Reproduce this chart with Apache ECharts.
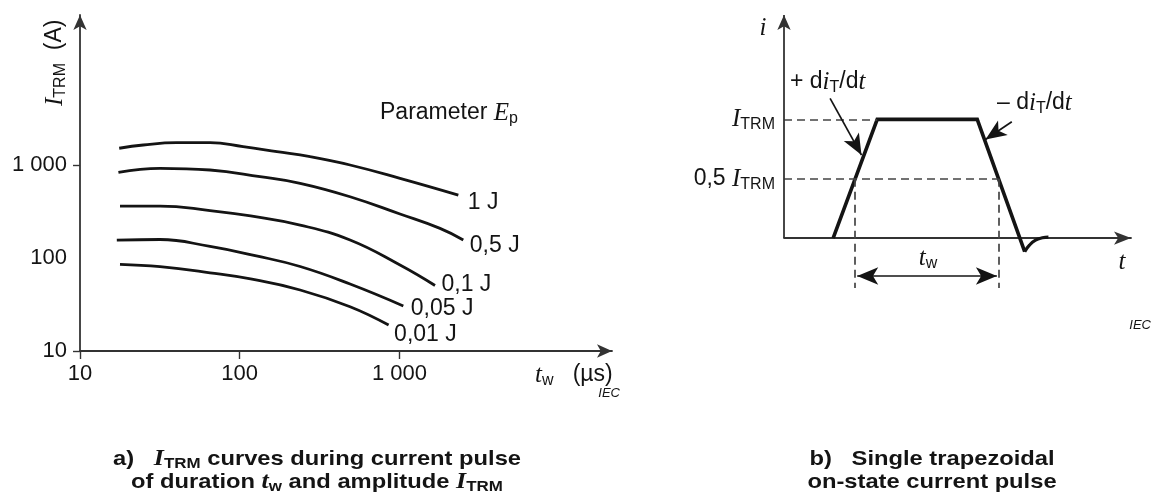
<!DOCTYPE html>
<html>
<head>
<meta charset="utf-8">
<script src="https://cdn.jsdelivr.net/npm/echarts@6/dist/echarts.min.js"></script>
<style>
  html, body { margin: 0; padding: 0; background: #ffffff; }
  #chart { width: 1153px; height: 501px; }
</style>
</head>
<body>
<div id="chart"></div>
<script>
// ---- a) I_TRM versus pulse duration t_w (µs), one curve per energy E_p ----
const energyLabels = ['1 J', '0,5 J', '0,1 J', '0,05 J', '0,01 J'];
const curve1J   = [[17.6, 1514], [24.9, 1641], [40.3, 1738], [65.2, 1738], [105, 1574], [171, 1391], [276, 1228], [491, 1000], [1009, 719], [2339, 475]];
const curve05J  = [[17.4, 835], [31.7, 922], [65.2, 884], [134, 748], [239, 635], [491, 456], [1009, 297], [1796, 208], [2512, 156]];
const curve01J  = [[17.8, 362], [31.7, 362], [65.2, 324], [117, 283], [239, 226], [491, 156], [1009, 84], [1671, 50.6]];
const curve005J = [[17, 156], [31.7, 158], [65.2, 133], [125, 106], [239, 81], [491, 52.5], [1058, 30.5]];
const curve001J = [[17.8, 85.5], [31.7, 80.6], [65.2, 69.3], [117, 59.5], [239, 45.3], [491, 29.9], [856, 19]];
const xTickValues = [10, 100, 1000];
const yLabelValues = [10, 100, 1000];
const yTickValues = [10, 1000];

// ---- b) single trapezoidal on-state current pulse (time in arbitrary units, current in I_TRM) ----
const pulseTime    = [14.5, 27.5, 57, 71];
const pulseCurrent = [0, 1, 1, -0.115];
const tailTime     = [71, 72.4, 74.2, 76.2, 78];
const tailCurrent  = [-0.115, -0.06, -0.018, 0.002, 0.008];
const levelTop = 1;            // I_TRM
const levelHalf = 0.5;         // 0,5 I_TRM
const twStart = 21;            // rising edge crosses 0,5 I_TRM
const twEnd = 63.3;            // falling edge crosses 0,5 I_TRM
const twArrowLevel = -0.32;
const guideBottom = -0.42;
const iAxisTop = 1.879;
const riseArrow = [[13.6, 1.177], [22.86, 0.699]];
const fallArrow = [[67.2, 0.98], [59.44, 0.83]];
const twArrow = [21.6, 62.8];

const SANS = "'Liberation Sans', Arial, Helvetica, sans-serif";
const SERIF = "'Liberation Serif', 'Times New Roman', serif";
const INK = '#141414';
const AXIS = '#333333';
const GUIDE = '#444444';

function richSet(size, subSize, bold) {
  const w = bold ? 'bold' : 'normal';
  return {
    n: { fontFamily: SANS, fontSize: size, fontWeight: w, color: INK, lineHeight: size + 4 },
    i: { fontFamily: SERIF, fontStyle: 'italic', fontSize: size + 2, fontWeight: w, color: INK, lineHeight: size + 4 },
    s: { fontFamily: SANS, fontSize: subSize, fontWeight: w, color: INK, lineHeight: subSize - 2, verticalAlign: 'bottom' }
  };
}
const RICH = richSet(23, 16, false);
const RICH_B = richSet(21, 15, true);

function txt(x, y, text, align, rich, rotation, scaleX) {
  return {
    type: 'text', x: x, y: y, rotation: rotation || 0, scaleX: scaleX || 1, silent: true,
    style: { text: text, rich: rich || RICH, align: align, verticalAlign: 'middle', fill: INK }
  };
}
function iecTag(x, y) {
  return {
    type: 'text', x: x, y: y, silent: true,
    style: { text: 'IEC', fontFamily: SANS, fontStyle: 'italic', fontSize: 13, fill: INK, align: 'right', verticalAlign: 'middle' }
  };
}

const thousands = v => {
  const r = Math.round(v);
  return r >= 1000 ? String(r).replace(/\B(?=(\d{3})+(?!\d))/g, ' ') : String(r);
};

const curves = [curve1J, curve05J, curve01J, curve005J, curve001J];
const labelOffsets = [[10, 8], [7, 6], [7, 0], [8, 3], [6, 10]];

const curveSeries = curves.map((pts, k) => ({
  name: energyLabels[k],
  type: 'line',
  xAxisIndex: 0, yAxisIndex: 0,
  data: pts,
  smooth: 0.45,
  showSymbol: false,
  silent: true,
  lineStyle: { color: INK, width: 2.8 },
  markPoint: {
    silent: true,
    symbol: 'circle', symbolSize: 1,
    itemStyle: { color: 'rgba(0,0,0,0)' },
    label: {
      show: true, formatter: energyLabels[k],
      position: labelOffsets[k], align: 'left', verticalAlign: 'middle',
      fontFamily: SANS, fontSize: 23, color: INK
    },
    data: [{ coord: pts[pts.length - 1] }]
  }
}));

const pulseSeries = {
  type: 'line', xAxisIndex: 1, yAxisIndex: 1,
  data: pulseTime.map((t, k) => [t, pulseCurrent[k]]),
  showSymbol: false, silent: true, clip: false,
  lineStyle: { color: INK, width: 3.6, join: 'miter' },
  markLine: {
    silent: true, symbol: 'none',
    label: { show: false },
    lineStyle: { color: GUIDE, width: 1.7, type: [8, 5] },
    data: [
      [{ coord: [0, levelTop] }, { coord: [pulseTime[1], levelTop] }],
      [{ coord: [0, levelHalf] }, { coord: [twEnd, levelHalf] }],
      [{ coord: [twStart, levelHalf] }, { coord: [twStart, guideBottom] }],
      [{ coord: [twEnd, levelHalf] }, { coord: [twEnd, guideBottom] }]
    ]
  }
};

const tailSeries = {
  type: 'line', xAxisIndex: 1, yAxisIndex: 1,
  data: tailTime.map((t, k) => [t, tailCurrent[k]]),
  smooth: 0.5, showSymbol: false, silent: true, clip: false,
  lineStyle: { color: INK, width: 3.2 },
  markLine: {
    silent: true,
    symbol: ['none', 'arrow'], symbolSize: [13, 21],
    label: { show: false },
    lineStyle: { color: INK, width: 1.7, type: 'solid' },
    data: [
      [{ coord: [0, 0], lineStyle: { color: AXIS, width: 1.8 } }, { coord: [0, iAxisTop], symbolSize: [10, 15] }],
      [{ coord: riseArrow[0] }, { coord: riseArrow[1] }],
      [{ coord: fallArrow[0] }, { coord: fallArrow[1] }],
      [{ coord: [twArrow[0], twArrowLevel], symbol: 'arrow' }, { coord: [twArrow[1], twArrowLevel] }]
    ]
  }
};

const option = {
  animation: false,
  backgroundColor: '#ffffff',
  grid: [
    { left: 80, top: 15, width: 532, height: 336 },
    { left: 784, top: 12.5, width: 347, height: 284.9 }
  ],
  xAxis: [
    {
      type: 'log', logBase: 10, gridIndex: 0, min: 10, max: 21440,
      axisLine: { show: true, onZero: false, symbol: ['none', 'arrow'], symbolSize: [10, 15], lineStyle: { color: AXIS, width: 1.8 } },
      axisTick: { show: true, customValues: xTickValues, length: 8, lineStyle: { color: AXIS, width: 1.4 } },
      axisLabel: { customValues: xTickValues, formatter: thousands, margin: 12, fontFamily: SANS, fontSize: 22, color: INK },
      splitLine: { show: false }, minorTick: { show: false }
    },
    {
      type: 'value', gridIndex: 1, min: 0, max: 102.36,
      axisLine: { show: true, onZero: true, symbol: ['none', 'arrow'], symbolSize: [10, 17], lineStyle: { color: AXIS, width: 1.8 } },
      axisTick: { show: false }, axisLabel: { show: false }, splitLine: { show: false }
    }
  ],
  yAxis: [
    {
      type: 'log', logBase: 10, gridIndex: 0, min: 10, max: 41010,
      axisLine: { show: true, onZero: false, symbol: ['none', 'arrow'], symbolSize: [10, 15], lineStyle: { color: AXIS, width: 1.8 } },
      axisTick: { show: true, customValues: yTickValues, length: 7, lineStyle: { color: AXIS, width: 1.4 } },
      axisLabel: { customValues: yLabelValues, formatter: thousands, margin: 13, fontFamily: SANS, fontSize: 22, color: INK },
      splitLine: { show: false }, minorTick: { show: false }
    },
    {
      type: 'value', gridIndex: 1, min: -0.5, max: 1.9,
      axisLine: { show: false }, axisTick: { show: false }, axisLabel: { show: false }, splitLine: { show: false }
    }
  ],
  series: curveSeries.concat([pulseSeries, tailSeries]),
  graphic: [
    // panel a texts
    txt(55, 106, '{i|I}{s|TRM}{n|  (A)}', 'left', RICH, Math.PI / 2),
    txt(380, 113, '{n|Parameter }{i|E}{s|p}', 'left'),
    txt(535, 375, '{i|t}{s|w}{n|   (µs)}', 'left'),
    iecTag(620, 393),
    // panel b texts
    txt(763, 28, '{i|i}', 'center'),
    txt(1122, 262, '{i|t}', 'center'),
    txt(775, 119, '{i|I}{s|TRM}', 'right'),
    txt(775, 179, '{n|0,5 }{i|I}{s|TRM}', 'right'),
    txt(790, 82, '{n|+ d}{i|i}{s|T}{n|/d}{i|t}', 'left'),
    txt(997, 103, '{n|– d}{i|i}{s|T}{n|/d}{i|t}', 'left'),
    txt(928, 258, '{i|t}{s|w}', 'center'),
    iecTag(1151, 325),
    // captions
    txt(317, 459, '{n|a)   }{i|I}{s|TRM}{n| curves during current pulse}', 'center', RICH_B, 0, 1.13),
    txt(317, 482, '{n|of duration }{i|t}{s|w}{n| and amplitude }{i|I}{s|TRM}', 'center', RICH_B, 0, 1.13),
    txt(932, 459, '{n|b)   Single trapezoidal}', 'center', RICH_B, 0, 1.13),
    txt(932, 482, '{n|on-state current pulse}', 'center', RICH_B, 0, 1.13)
  ]
};

const chart = echarts.init(document.getElementById('chart'), null, { renderer: 'canvas' });
chart.setOption(option);
</script>
</body>
</html>
